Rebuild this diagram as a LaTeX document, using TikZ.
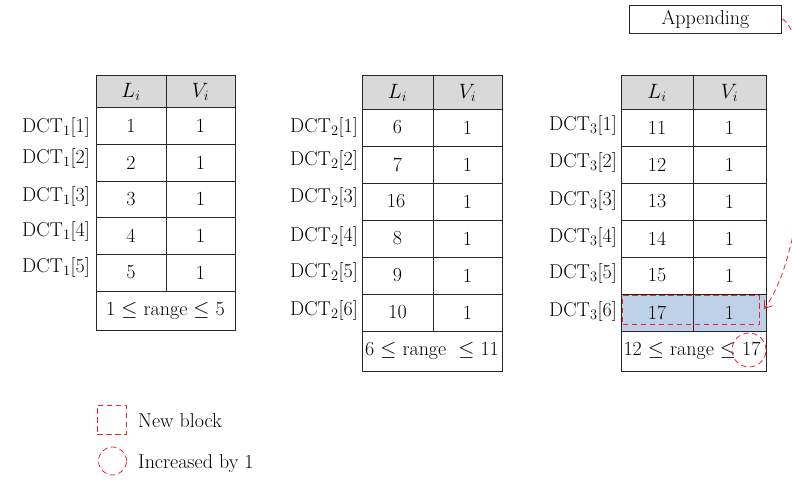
\documentclass[tikz,border=0pt]{standalone}
\usepackage{fontspec}
\usetikzlibrary{arrows.meta}
\definecolor{hdgray}{RGB}{217,217,217}
\definecolor{newblue}{RGB}{189,210,233}
\definecolor{mkred}{RGB}{237,34,44}

\begin{document}
\begin{tikzpicture}[x=1pt,y=-1pt,font=\fontsize{20}{24}\selectfont,
  cell/.style={draw=black!85,line width=.9pt},
  lab/.style={anchor=east,inner sep=0pt},
  num/.style={inner sep=0pt},
  redmark/.style={draw=mkred,line width=.8pt,dash pattern=on 5.5pt off 3.5pt}]
\useasboundingbox (0,0) rectangle (792,479);
% first table
\path[cell,fill=hdgray] (96,75) rectangle (166,107) (166,75) rectangle (235,107);
\node[num] (a-hl) at (131,92) {$L_i$};
\node[num] (a-hv) at (200.5,92) {$V_i$};
\path[cell] (96,107) rectangle (166,144) (166,107) rectangle (235,144);
\node[num] (a-l1) at (131,125.5) {1};
\node[num] (a-v1) at (200.5,125.5) {1};
\node[lab] (a-d1) at (90,127) {DCT$_1$[1]};
\path[cell] (96,144) rectangle (166,181) (166,144) rectangle (235,181);
\node[num] (a-l2) at (131,162.5) {2};
\node[num] (a-v2) at (200.5,162.5) {1};
\node[lab] (a-d2) at (90,158) {DCT$_1$[2]};
\path[cell] (96,181) rectangle (166,217) (166,181) rectangle (235,217);
\node[num] (a-l3) at (131,199) {3};
\node[num] (a-v3) at (200.5,199) {1};
\node[lab] (a-d3) at (90,196) {DCT$_1$[3]};
\path[cell] (96,217) rectangle (166,254) (166,217) rectangle (235,254);
\node[num] (a-l4) at (131,235.5) {4};
\node[num] (a-v4) at (200.5,235.5) {1};
\node[lab] (a-d4) at (90,231) {DCT$_1$[4]};
\path[cell] (96,254) rectangle (166,291) (166,254) rectangle (235,291);
\node[num] (a-l5) at (131,272.5) {5};
\node[num] (a-v5) at (200.5,272.5) {1};
\node[lab] (a-d5) at (90,267) {DCT$_1$[5]};
\path[cell] (96,291) rectangle (235,330);
\node[num] (a-rng) at (165.5,310.5) {1 $\leq$ range $\leq$ 5};
% second table
\path[cell,fill=hdgray] (362,75) rectangle (433,109) (433,75) rectangle (502,109);
\node[num] (b-hl) at (397.5,93) {$L_i$};
\node[num] (b-hv) at (467.5,93) {$V_i$};
\path[cell] (362,109) rectangle (433,146) (433,109) rectangle (502,146);
\node[num] (b-l1) at (397.5,127.5) {6};
\node[num] (b-v1) at (467.5,127.5) {1};
\node[lab] (b-d1) at (358,127) {DCT$_2$[1]};
\path[cell] (362,146) rectangle (433,183) (433,146) rectangle (502,183);
\node[num] (b-l2) at (397.5,164.5) {7};
\node[num] (b-v2) at (467.5,164.5) {1};
\node[lab] (b-d2) at (358,160) {DCT$_2$[2]};
\path[cell] (362,183) rectangle (433,220) (433,183) rectangle (502,220);
\node[num] (b-l3) at (396,201.5) {16};
\node[num] (b-v3) at (467.5,201.5) {1};
\node[lab] (b-d3) at (358,197) {DCT$_2$[3]};
\path[cell] (362,220) rectangle (433,257) (433,220) rectangle (502,257);
\node[num] (b-l4) at (397.5,238.5) {8};
\node[num] (b-v4) at (467.5,238.5) {1};
\node[lab] (b-d4) at (358,236) {DCT$_2$[4]};
\path[cell] (362,257) rectangle (433,294) (433,257) rectangle (502,294);
\node[num] (b-l5) at (397.5,275.5) {9};
\node[num] (b-v5) at (467.5,275.5) {1};
\node[lab] (b-d5) at (358,272) {DCT$_2$[5]};
\path[cell] (362,294) rectangle (433,331) (433,294) rectangle (502,331);
\node[num] (b-l6) at (397.5,312.5) {10};
\node[num] (b-v6) at (467.5,312.5) {1};
\node[lab] (b-d6) at (358,310) {DCT$_2$[6]};
\path[cell] (362,331) rectangle (502,371);
\node[num] (b-rng) at (432,351) {6 $\leq$ range \ $\leq$ 11};
% third table
\path[cell,fill=hdgray] (621,75) rectangle (693,109) (693,75) rectangle (766,109);
\node[num] (c-hl) at (657,93) {$L_i$};
\node[num] (c-hv) at (729.5,93) {$V_i$};
\path[cell] (621,109) rectangle (693,146) (693,109) rectangle (766,146);
\node[num] (c-l1) at (657,127.5) {11};
\node[num] (c-v1) at (729.5,127.5) {1};
\node[lab] (c-d1) at (617,125) {DCT$_3$[1]};
\path[cell] (621,146) rectangle (693,183) (693,146) rectangle (766,183);
\node[num] (c-l2) at (657,164.5) {12};
\node[num] (c-v2) at (729.5,164.5) {1};
\node[lab] (c-d2) at (617,162) {DCT$_3$[2]};
\path[cell] (621,183) rectangle (693,220) (693,183) rectangle (766,220);
\node[num] (c-l3) at (657,201.5) {13};
\node[num] (c-v3) at (729.5,201.5) {1};
\node[lab] (c-d3) at (617,200) {DCT$_3$[3]};
\path[cell] (621,220) rectangle (693,257) (693,220) rectangle (766,257);
\node[num] (c-l4) at (657,238.5) {14};
\node[num] (c-v4) at (729.5,238.5) {1};
\node[lab] (c-d4) at (617,237) {DCT$_3$[4]};
\path[cell] (621,257) rectangle (693,294) (693,257) rectangle (766,294);
\node[num] (c-l5) at (657,275.5) {15};
\node[num] (c-v5) at (729.5,275.5) {1};
\node[lab] (c-d5) at (617,273) {DCT$_3$[5]};
\path[cell,fill=newblue] (621,294) rectangle (693,331) (693,294) rectangle (766,331);
\node[num] (c-l6) at (657,312.5) {17};
\node[num] (c-v6) at (729.5,312.5) {1};
\node[lab] (c-d6) at (617,311) {DCT$_3$[6]};
\path[cell] (621,331) rectangle (766,371);
\node[num] (c-rng) at (692,351) {12 $\leq$ range $\leq$ 17};
% red marks
\node[redmark,minimum width=137pt,minimum height=29pt,inner sep=0pt] (newblk) at (691,310) {};
\node[redmark,circle,minimum size=34pt,inner sep=0pt] (incr) at (749,350) {};
\node[cell,minimum width=152pt,minimum height=28pt,inner sep=0pt] (app) at (705.5,19) {Appending};
\coordinate (tipend) at (764,309);
\draw[redmark,-{Straight Barb[length=7pt,width=10pt]}] (app.east) .. controls (812,30) and (815,240) .. (tipend);
% legend
\node[redmark,minimum size=29pt,inner sep=0pt] (legblk) at (111.5,419.5) {};
\node[anchor=west,inner sep=0pt] (legblktx) at (138,421) {New block};
\node[redmark,circle,minimum size=28pt,inner sep=0pt] (legcirc) at (112.5,461) {};
\node[anchor=west,inner sep=0pt] (legcirctx) at (138,464) {Increased by 1};
\end{tikzpicture}
\end{document}
